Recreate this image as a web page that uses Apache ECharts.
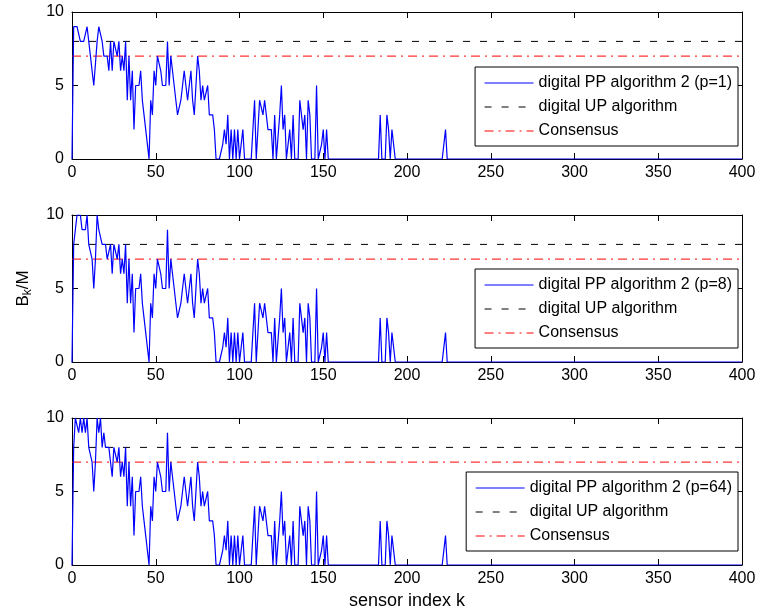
<!DOCTYPE html>
<html><head><meta charset="utf-8">
<script src="https://cdn.jsdelivr.net/npm/echarts@6/dist/echarts.min.js"></script>
<style>html,body{margin:0;padding:0;background:#fff}#c{width:759px;height:615px}</style>
</head><body><div id="c"></div>
<script>
// ---- data ----
const xMin = 0, xMax = 400, xStep = 50;
const yMin = 0, yMax = 10, yStep = 5;
const upLevel = 8;          // digital UP algorithm
const consensusLevel = 7;   // Consensus
const ppNames = ['digital PP algorithm 2 (p=1)', 'digital PP algorithm 2 (p=8)', 'digital PP algorithm 2 (p=64)'];
const upName = 'digital UP algorithm';
const consName = 'Consensus';

// Sensor k = 0 .. 224 (all following sensors are 0 up to k = 400)
const ppP1Head = [0,9,9,9,9,8,8,8,8,9, 8,7,7,5,5,8,9,9,8,7, 7,7,6,8,6,8,8,7,8,6];
const ppP8Head = [0,8,9,10,10,10,9,9,9,10, 8,8,7,5,7,10,9,9,8,8, 8,7,7,8,6,8,8,7,8,6];
const ppP64Head = [0,8,10,10,9,10,9,10,9,10, 8,8,7,5,7,10,9,10,8,9, 8,8,8,8,6,8,8,7,8,6];
// k = 30 .. 56 (common to all three)
const ppMidA = [7,6,8,4,7,4,6,2,5,5, 5,6,4,3,2,2,0,4,3,6, 5,7,7,6,5,5,5];
// k = 57
const ppK57 = [8, 9, 9];
// k = 58 .. 224 (common)
const ppTail = [5,7, 6,6,4,3,3,4,5,6,6,4, 4,6,4,3,3,7,6,4,5,4,
  4,5,3,3,3,2,0,0,0,0, 1,2,1,3,0,2,0,2,0,2, 0,0,2,0,0,0,0,0,0,4,
  0,0,4,4,3,4,3,2,2,2, 0,3,0,0,3,5,2,3,0,0, 2,0,3,0,0,0,4,3,2,3,
  0,4,3,0,0,0,5,0,0,1, 2,0,2,0,0,0,0,0,0,0, 0,0,0,0,0,0,0,0,0,0,
  0,0,0,0,0,0,0,0,0,0, 0,0,0,0,3,0,0,0,3,2, 0,2,2,0,0,0,0,0,0,0,
  0,0,0,0,0,0,0,0,0,0, 0,0,0,0,0,0,0,0,0,0, 0,0,0,2,0];
const zeroTailCount = 176; // k = 225 .. 400 are all 0

function buildSeries(head, k57) {
  const v = head.concat(ppMidA, [k57], ppTail, new Array(zeroTailCount).fill(0));
  return v.map((y, k) => [k, y]);
}
const ppData = [buildSeries(ppP1Head, ppK57[0]), buildSeries(ppP8Head, ppK57[1]), buildSeries(ppP64Head, ppK57[2])];

// ---- layout ----
const gridTops = [12, 215, 418];
const legendTops = [67, 269, 472];
const FONT = 'Liberation Sans, Arial, Helvetica, sans-serif';

const grids = [], xAxes = [], yAxes = [], series = [], legends = [];
gridTops.forEach((t, i) => {
  grids.push({left: 72, right: 17, top: t, height: 147});
  const lineCol = {lineStyle: {color: '#000', width: 1}};
  xAxes.push({
    type: 'value', gridIndex: i, min: xMin, max: xMax, interval: xStep, position: 'bottom',
    axisLine: {show: true, onZero: false, ...lineCol},
    axisTick: {show: true, inside: true, length: 6, lineStyle: {color: '#000'}},
    axisLabel: {color: '#000', fontSize: 16, fontFamily: FONT, margin: 6},
    splitLine: {show: false},
    name: i === 2 ? 'sensor index k' : '', nameLocation: 'middle', nameGap: 27,
    nameTextStyle: {color: '#000', fontSize: 18, fontFamily: FONT}
  });
  xAxes.push({
    type: 'value', gridIndex: i, min: xMin, max: xMax, interval: xStep, position: 'top',
    axisLine: {show: true, onZero: false, ...lineCol},
    axisTick: {show: true, inside: true, length: 6, lineStyle: {color: '#000'}},
    axisLabel: {show: false}, splitLine: {show: false}
  });
  yAxes.push({
    type: 'value', gridIndex: i, min: yMin, max: yMax, interval: yStep, position: 'left',
    axisLine: {show: true, onZero: false, ...lineCol},
    axisTick: {show: true, inside: true, length: 6, lineStyle: {color: '#000'}},
    axisLabel: {color: '#000', fontSize: 16, fontFamily: FONT, margin: 8},
    splitLine: {show: false},
    name: i === 1 ? '{a|B}{s|k}{a|/M}' : '', nameLocation: 'middle', nameGap: 40, nameRotate: 90,
    nameTextStyle: {color: '#000', fontFamily: FONT,
      rich: {a: {fontSize: 17, fontFamily: FONT, color: '#000', verticalAlign: 'top', lineHeight: 17},
             s: {fontSize: 12, fontFamily: FONT, color: '#000', padding: [9, 0, 0, 0], lineHeight: 12}}}
  });
  yAxes.push({
    type: 'value', gridIndex: i, min: yMin, max: yMax, interval: yStep, position: 'right',
    axisLine: {show: true, onZero: false, ...lineCol},
    axisTick: {show: true, inside: true, length: 6, lineStyle: {color: '#000'}},
    axisLabel: {show: false}, splitLine: {show: false}
  });
  series.push({
    name: ppNames[i], type: 'line', xAxisIndex: 2 * i, yAxisIndex: 2 * i, data: ppData[i],
    symbol: 'none', lineStyle: {color: '#0000ff', width: 1.2}, itemStyle: {color: '#0000ff'}, z: 3
  });
  series.push({
    name: upName, type: 'line', xAxisIndex: 2 * i, yAxisIndex: 2 * i,
    data: [[xMin, upLevel], [xMax, upLevel]], symbol: 'none',
    lineStyle: {color: '#000', width: 1, type: [7, 10]}, itemStyle: {color: '#000'}, z: 2
  });
  series.push({
    name: consName, type: 'line', xAxisIndex: 2 * i, yAxisIndex: 2 * i,
    data: [[xMin, consensusLevel], [xMax, consensusLevel]], symbol: 'none',
    lineStyle: {color: '#ff0000', width: 1, type: [9, 5, 2, 5]}, itemStyle: {color: '#ff0000'}, z: 2
  });
  legends.push({
    orient: 'vertical', right: 21, top: legendTops[i], selectedMode: false,
    data: [ppNames[i], upName, consName],
    borderColor: '#000', borderWidth: 1, borderRadius: 0, backgroundColor: '#fff',
    padding: [8, 6, 7, 9], itemWidth: 49, itemHeight: 14, itemGap: 8,
    itemStyle: {opacity: 0},
    lineStyle: {width: 1},
    textStyle: {color: '#000', fontSize: 16, fontFamily: FONT}
  });
});

const chart = echarts.init(document.getElementById('c'), null, {renderer: 'canvas'});
chart.setOption({
  animation: false, backgroundColor: '#fff',
  grid: grids, xAxis: xAxes, yAxis: yAxes, series: series, legend: legends
});
</script></body></html>
